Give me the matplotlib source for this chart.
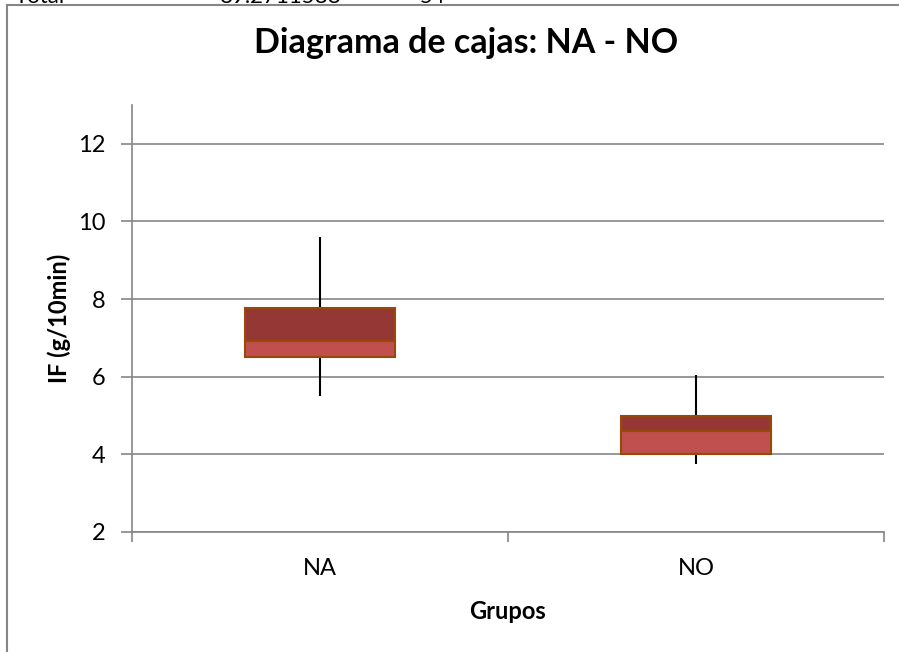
import matplotlib
matplotlib.use('Agg')
import matplotlib.pyplot as plt
from matplotlib.lines import Line2D

plt.rcParams['font.family'] = ['Lato', 'DejaVu Sans']

# datos del diagrama de cajas (min, Q1, mediana, Q3, max)
grupos = ['NA', 'NO']
minimos = [5.50, 3.74]
q1 = [6.51, 4.01]
medianas = [6.92, 4.60]
q3 = [7.77, 4.98]
maximos = [9.61, 6.05]

# fila de la hoja que queda cortada arriba
fila_total = ['Total', '89.2711588', '54']

gris = '#868686'

fig = plt.figure(figsize=(8.99, 6.52), dpi=100)
ax = fig.add_axes([132/899, 1-532/652, (884-132)/899, (532-105)/652])

x = list(range(len(grupos)))

# bigotes
ax.vlines(x, minimos, q1, colors='black', linewidth=1.5, zorder=2)
ax.vlines(x, q3, maximos, colors='black', linewidth=1.5, zorder=2)

# cajas: parte baja (Q1 - mediana) y parte alta (mediana - Q3)
bajo = [m - a for m, a in zip(medianas, q1)]
alto = [b - m for b, m in zip(q3, medianas)]
ax.bar(x, bajo, bottom=q1, width=0.4, color='#C0504D', edgecolor='#984807', linewidth=1.5, zorder=3)
ax.bar(x, alto, bottom=medianas, width=0.4, color='#953735', edgecolor='#984807', linewidth=1.5, zorder=3)

ax.set_xlim(-0.5, 1.5)
ax.set_ylim(2, 13)
ax.set_yticks([2, 4, 6, 8, 10, 12])
ax.yaxis.grid(True, color=gris, linewidth=1.2)
ax.set_axisbelow(True)

# marcas entre categorias y etiquetas centradas
ax.set_xticks([-0.5, 0.5, 1.5])
ax.set_xticklabels([])
ax.set_xticks(x, minor=True)
ax.set_xticklabels(grupos, minor=True)
ax.tick_params(axis='x', which='major', length=7, color=gris, width=1.2)
ax.tick_params(axis='x', which='minor', length=0, pad=19, labelsize=17)
ax.tick_params(axis='y', length=8, color=gris, width=1.2, labelsize=17, pad=11)

for s in ['top', 'right']:
    ax.spines[s].set_visible(False)
for s in ['left', 'bottom']:
    ax.spines[s].set_color(gris)
    ax.spines[s].set_linewidth(1.2)

ax.set_xlabel('Grupos', fontsize=17, fontweight='bold', labelpad=15)
ax.set_ylabel('IF (g/10min)', fontsize=17, fontweight='bold', labelpad=5)

fig.text(466/899, 1-53/652, 'Diagrama de cajas: NA - NO', fontsize=24.5, fontweight='bold',
         ha='center', va='baseline')

# marco del grafico
fig.add_artist(Line2D([7/899, 1], [1-5/652, 1-5/652], color=gris, linewidth=1.5, transform=fig.transFigure))
fig.add_artist(Line2D([7/899, 7/899], [0, 1-5/652], color=gris, linewidth=1.5, transform=fig.transFigure))

# texto cortado en la parte superior
for txt, xpos in zip(fila_total, [15, 220, 420]):
    fig.text(xpos/899, 1-3/652, txt, fontsize=16, ha='left', va='baseline')

fig.savefig('out.png', dpi=100)
